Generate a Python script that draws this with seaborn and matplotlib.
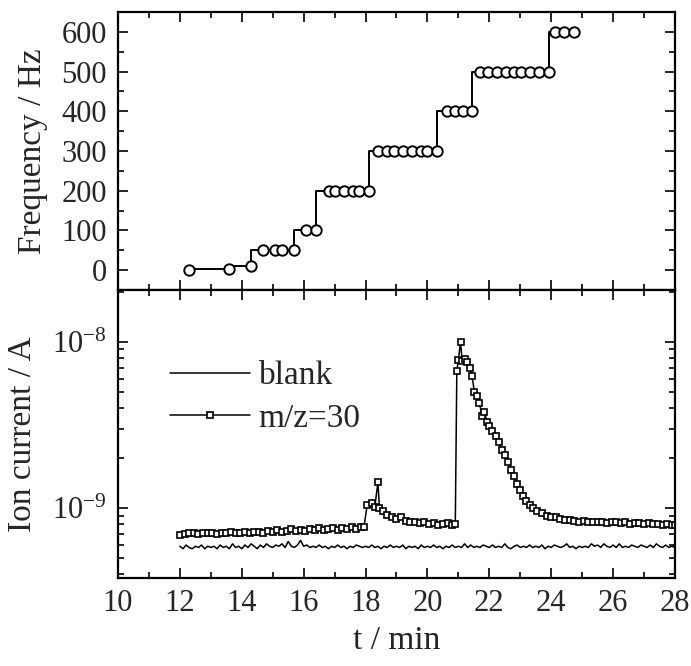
import numpy as np
import pandas as pd
import matplotlib
matplotlib.use("Agg")
import matplotlib.pyplot as plt
import seaborn as sns
from matplotlib.ticker import MultipleLocator, LogLocator, NullFormatter

sns.set_style("ticks")
plt.rcParams['font.family'] = ['Liberation Serif', 'DejaVu Serif']
plt.rcParams['mathtext.fontset'] = 'custom'
plt.rcParams['mathtext.rm'] = 'Liberation Serif'
plt.rcParams['mathtext.it'] = 'Liberation Serif:italic'

# ---------------- data ----------------
freq_t = [12.30, 13.60, 14.31,
          14.70, 15.08, 15.31, 15.70,
          16.09, 16.41,
          16.81, 17.00, 17.29, 17.61, 17.80, 18.10,
          18.40, 18.69, 18.92, 19.22, 19.50, 19.78, 20.00, 20.31,
          20.62, 20.89, 21.16, 21.43,
          21.70, 21.97, 22.26, 22.54, 22.80, 23.03, 23.30, 23.62, 23.92,
          24.13, 24.42, 24.73]
freq_hz = [0, 3, 10,
           50, 50, 50, 50,
           100, 100,
           200, 200, 200, 200, 200, 200,
           300, 300, 300, 300, 300, 300, 300, 300,
           400, 400, 400, 400,
           500, 500, 500, 500, 500, 500, 500, 500, 500,
           600, 600, 600]

mz_t = [12.00, 12.15, 12.30, 12.45, 12.60, 12.75, 12.90, 13.05, 13.20, 13.35,
        13.50, 13.65, 13.80, 13.95, 14.10, 14.25, 14.40, 14.55, 14.70, 14.85,
        15.00, 15.15, 15.30, 15.45, 15.60, 15.75, 15.90, 16.05, 16.20, 16.35,
        16.50, 16.65, 16.80, 16.95, 17.10, 17.25, 17.40, 17.55, 17.70, 17.85,
        17.95, 18.05, 18.20, 18.30, 18.40, 18.45, 18.55, 18.70, 18.85, 19.00,
        19.15, 19.30, 19.45, 19.60, 19.75, 19.90, 20.05, 20.20, 20.35, 20.50,
        20.65, 20.80, 20.90, 20.95, 21.00, 21.07, 21.12, 21.20, 21.28, 21.36,
        21.44, 21.52, 21.60, 21.68, 21.76, 21.84, 21.92, 22.00, 22.10, 22.20,
        22.30, 22.40, 22.50, 22.60, 22.70, 22.80, 22.90, 23.00, 23.10, 23.20,
        23.30, 23.40, 23.55, 23.70, 23.85, 24.00, 24.15, 24.30, 24.45, 24.60,
        24.75, 24.90, 25.05, 25.20, 25.35, 25.50, 25.65, 25.80, 25.95, 26.10,
        26.25, 26.40, 26.55, 26.70, 26.85, 27.00, 27.15, 27.30, 27.45, 27.60,
        27.75, 27.90, 28.00]
mz_e10 = [6.9, 7.0, 7.1, 7.1, 7.0, 7.1, 7.1, 7.1, 7.0, 7.1,
          7.1, 7.2, 7.1, 7.1, 7.2, 7.1, 7.2, 7.2, 7.1, 7.3,
          7.2, 7.4, 7.2, 7.3, 7.5, 7.3, 7.4, 7.3, 7.5, 7.4,
          7.6, 7.4, 7.5, 7.6, 7.4, 7.6, 7.5, 7.7, 7.5, 7.7,
          7.7, 10.4, 10.7, 10.2, 14.3, 10.0, 9.6, 9.1, 8.8, 8.6,
          8.9, 8.4, 8.3, 8.2, 8.1, 8.2, 8.0, 8.1, 7.9, 8.0,
          8.1, 7.9, 8.0, 67.0, 78.0, 100.0, 77.0, 79.0, 76.0, 70.0,
          62.0, 50.0, 47.0, 43.0, 36.0, 38.0, 33.0, 31.0, 29.0, 27.0,
          25.0, 22.5, 21.0, 19.0, 17.0, 15.5, 14.0, 12.8, 11.8, 11.0,
          10.5, 10.0, 9.6, 9.3, 9.0, 8.9, 8.8, 8.6, 8.5, 8.5,
          8.4, 8.3, 8.4, 8.3, 8.3, 8.2, 8.3, 8.1, 8.2, 8.2,
          8.1, 8.2, 8.0, 8.1, 8.1, 8.0, 8.1, 8.0, 8.0, 7.9,
          8.0, 7.9, 7.9]

blank_t = [12.0, 12.1, 12.2, 12.3, 12.4, 12.5, 12.6, 12.7, 12.8, 12.9,
           13.0, 13.1, 13.2, 13.3, 13.4, 13.5, 13.6, 13.7, 13.8, 13.9,
           14.0, 14.1, 14.2, 14.3, 14.4, 14.5, 14.6, 14.7, 14.8, 14.9,
           15.0, 15.1, 15.2, 15.3, 15.4, 15.5, 15.6, 15.7, 15.8, 15.9,
           16.0, 16.1, 16.2, 16.3, 16.4, 16.5, 16.6, 16.7, 16.8, 16.9,
           17.0, 17.1, 17.2, 17.3, 17.4, 17.5, 17.6, 17.7, 17.8, 17.9,
           18.0, 18.1, 18.2, 18.3, 18.4, 18.5, 18.6, 18.7, 18.8, 18.9,
           19.0, 19.1, 19.2, 19.3, 19.4, 19.5, 19.6, 19.7, 19.8, 19.9,
           20.0, 20.1, 20.2, 20.3, 20.4, 20.5, 20.6, 20.7, 20.8, 20.9,
           21.0, 21.1, 21.2, 21.3, 21.4, 21.5, 21.6, 21.7, 21.8, 21.9,
           22.0, 22.1, 22.2, 22.3, 22.4, 22.5, 22.6, 22.7, 22.8, 22.9,
           23.0, 23.1, 23.2, 23.3, 23.4, 23.5, 23.6, 23.7, 23.8, 23.9,
           24.0, 24.1, 24.2, 24.3, 24.4, 24.5, 24.6, 24.7, 24.8, 24.9,
           25.0, 25.1, 25.2, 25.3, 25.4, 25.5, 25.6, 25.7, 25.8, 25.9,
           26.0, 26.1, 26.2, 26.3, 26.4, 26.5, 26.6, 26.7, 26.8, 26.9,
           27.0, 27.1, 27.2, 27.3, 27.4, 27.5, 27.6, 27.7, 27.8, 27.9,
           28.0]
blank_e10 = [5.9, 5.7, 6.0, 5.8, 5.7, 5.9, 5.8, 6.0, 5.7, 5.9,
             5.8, 5.9, 5.7, 6.0, 5.8, 5.9, 5.7, 6.1, 5.8, 5.9,
             5.7, 6.0, 5.8, 6.1, 5.9, 5.7, 6.0, 5.8, 6.1, 5.9,
             5.8, 6.0, 5.9, 6.1, 5.8, 6.3, 5.9, 5.8, 6.0, 6.4,
             5.9, 6.0, 5.8, 5.9, 5.8, 6.0, 5.8, 5.9, 5.7, 5.9,
             5.8, 6.0, 5.8, 5.9, 5.7, 5.9, 5.8, 6.0, 5.9, 5.8,
             5.9, 5.8, 6.0, 5.8, 5.9, 5.7, 5.9, 5.8, 6.0, 5.8,
             5.9, 5.8, 6.0, 5.7, 5.9, 5.8, 5.9, 5.7, 6.0, 5.8,
             5.9, 5.8, 6.0, 5.8, 5.9, 5.7, 5.9, 5.8, 6.0, 5.8,
             5.9, 5.8, 6.1, 5.8, 6.0, 5.8, 5.9, 5.8, 6.0, 5.9,
             5.8, 6.0, 5.8, 5.9, 5.8, 6.1, 5.8, 5.7, 5.9, 6.0,
             5.8, 5.9, 5.8, 6.0, 5.8, 5.9, 5.8, 6.0, 5.7, 5.9,
             5.8, 6.0, 5.9, 5.8, 5.9, 6.1, 5.8, 5.9, 5.7, 5.9,
             5.8, 5.9, 5.8, 6.1, 5.9, 6.0, 5.8, 6.1, 5.9, 5.8,
             6.0, 5.8, 6.1, 5.8, 5.9, 5.8, 6.0, 5.9, 5.8, 6.0,
             5.9, 5.8, 6.0, 5.8, 6.1, 5.9, 5.8, 6.0, 5.8, 5.9,
             5.8]

# ---------------- figure ----------------
fig = plt.figure(figsize=(6.91, 6.66), dpi=100)
ax1 = fig.add_axes([0.1708, 0.5646, 0.806, 0.4174])
ax2 = fig.add_axes([0.1708, 0.1321, 0.806, 0.4325], sharex=ax1)

FS_T = 22
FS_L = 24
LW_SP = 1.6

freq_df = pd.DataFrame({"t": freq_t, "f": freq_hz})
sns.lineplot(data=freq_df, x="t", y="f", ax=ax1, sort=False, estimator=None,
             color="black", lw=1.4, drawstyle="steps-pre", marker="o",
             markersize=7.5, markerfacecolor="white", markeredgecolor="black",
             markeredgewidth=1.4)

mz = np.array(mz_e10) * 1e-10
bl = np.array(blank_e10) * 1e-10
blank_df = pd.DataFrame({"t": blank_t, "i": bl})
mz_df = pd.DataFrame({"t": mz_t, "i": mz})
sns.lineplot(data=blank_df, x="t", y="i", ax=ax2, sort=False, estimator=None,
             color="black", lw=1.1, label="blank")
sns.lineplot(data=mz_df, x="t", y="i", ax=ax2, sort=False, estimator=None,
             color="black", lw=1.1, marker="s", markersize=4,
             markerfacecolor="white", markeredgecolor="black",
             markeredgewidth=1.2, label="m/z=30")

ax1.set_xlim(10, 28)
ax1.set_ylim(-50, 650)
ax1.yaxis.set_major_locator(MultipleLocator(100))
ax1.yaxis.set_minor_locator(MultipleLocator(50))
ax1.xaxis.set_major_locator(MultipleLocator(2))
ax1.xaxis.set_minor_locator(MultipleLocator(1))
ax1.set_ylabel("Frequency / Hz", fontsize=FS_L, labelpad=10)
ax1.set_xlabel("")
ax1.tick_params(axis="x", labelbottom=False)

ax2.set_yscale("log")
ax2.set_ylim(3.8e-10, 2.05e-8)
ax2.yaxis.set_major_locator(LogLocator(base=10, numticks=10))
ax2.yaxis.set_minor_locator(LogLocator(base=10, subs=np.arange(2, 10), numticks=10))
ax2.yaxis.set_minor_formatter(NullFormatter())
ax2.set_ylabel("Ion current / A", fontsize=FS_L, labelpad=10)
ax2.set_xlabel("t / min", fontsize=FS_L, labelpad=5)

for ax in (ax1, ax2):
    for s in ax.spines.values():
        s.set_visible(True)
        s.set_linewidth(LW_SP)
        s.set_color("black")
    ax.tick_params(which="both", direction="in", top=True, right=True,
                   labelsize=FS_T, color="black", width=1.2)
    ax.tick_params(which="major", length=7, pad=8)
    ax.tick_params(which="minor", length=4)

ax2.legend(loc="upper left", bbox_to_anchor=(0.07, 0.80), frameon=False,
           fontsize=FS_L, handlelength=2.4, handletextpad=0.25,
           labelspacing=0.35, borderaxespad=0)

fig.savefig("out.png", dpi=100)
